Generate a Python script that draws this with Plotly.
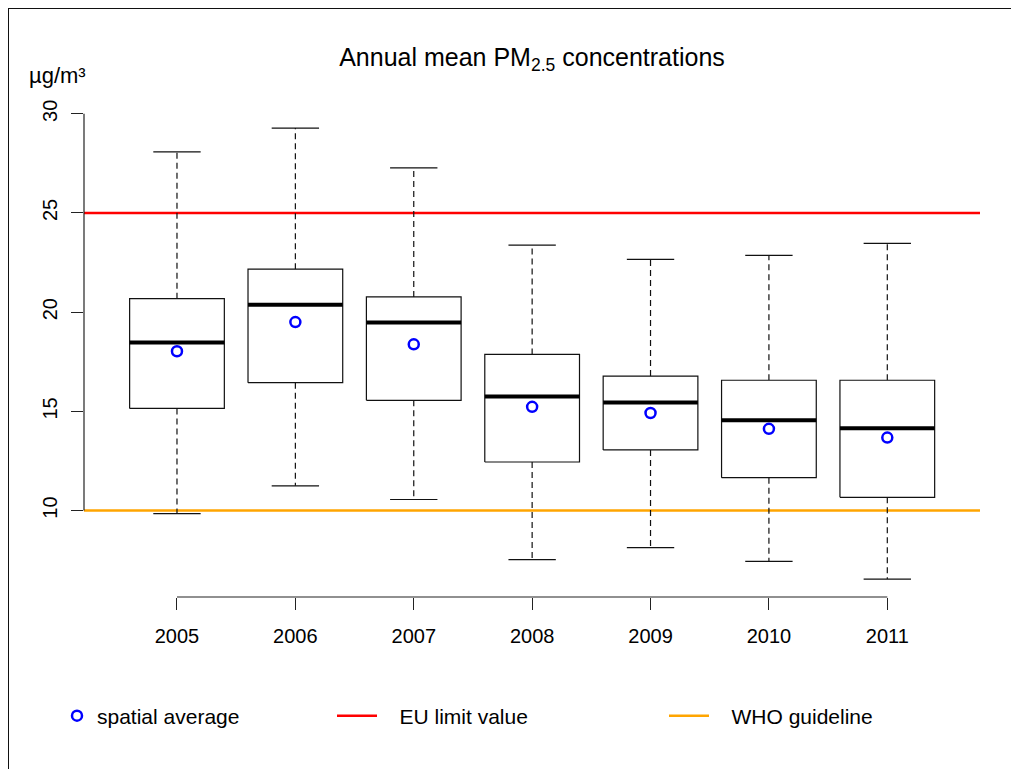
import plotly.graph_objects as go

# ---------------- data ----------------
years = ["2005", "2006", "2007", "2008", "2009", "2010", "2011"]
whisker_low = [9.85, 11.25, 10.56, 7.53, 8.13, 7.44, 6.55]
q1 = [15.15, 16.45, 15.56, 12.45, 13.06, 11.66, 10.67]
median = [18.47, 20.38, 19.48, 15.75, 15.45, 14.55, 14.15]
q3 = [20.68, 22.17, 20.77, 17.87, 16.78, 16.57, 16.57]
whisker_high = [28.08, 29.28, 27.27, 23.38, 22.66, 22.86, 23.47]
spatial_mean = [18.03, 19.50, 18.38, 15.23, 14.92, 14.12, 13.68]
eu_limit = 25
who_guideline = 10
y_ticks = [10, 15, 20, 25, 30]

# ---------------- geometry helpers ----------------
pos = list(range(1, len(years) + 1))
hw = 0.4   # box half width (category units)
cw = 0.2   # whisker cap half width
x_range = [0.2146, 7.783]
y_range = [5.646, 30.19]

box_x, box_y = [], []
med_x, med_y = [], []
wh_x, wh_y = [], []
cap_x, cap_y = [], []
for p, lo, a, m, b, hi in zip(pos, whisker_low, q1, median, q3, whisker_high):
    box_x += [p - hw, p + hw, p + hw, p - hw, p - hw, None]
    box_y += [a, a, b, b, a, None]
    med_x += [p - hw, p + hw, None]
    med_y += [m, m, None]
    wh_x += [p, p, None, p, p, None]
    wh_y += [b, hi, None, a, lo, None]
    cap_x += [p - cw, p + cw, None, p - cw, p + cw, None]
    cap_y += [hi, hi, None, lo, lo, None]

FONT = "Liberation Sans, Arial, Helvetica, sans-serif"

# plot area in figure pixels (page is offset by the 8px body margin)
L, T, W, H = 76, 102, 896, 487

fig = go.Figure()

# reference lines
fig.add_trace(go.Scatter(x=x_range, y=[eu_limit, eu_limit], mode="lines",
                         line=dict(color="#FF0000", width=2.5),
                         name="\u00a0\u00a0\u00a0EU limit value", legend="legend2",
                         hoverinfo="skip"))
fig.add_trace(go.Scatter(x=x_range, y=[who_guideline, who_guideline], mode="lines",
                         line=dict(color="#FFA500", width=2.5),
                         name="\u00a0\u00a0\u00a0WHO guideline", legend="legend3",
                         hoverinfo="skip"))

# whiskers (dashed)
fig.add_trace(go.Scatter(x=wh_x, y=wh_y, mode="lines",
                         line=dict(color="#111111", width=1.2, dash="6px,4px"),
                         showlegend=False, hoverinfo="skip"))
# caps
fig.add_trace(go.Scatter(x=cap_x, y=cap_y, mode="lines",
                         line=dict(color="#111111", width=1.2),
                         showlegend=False, hoverinfo="skip"))
# boxes
fig.add_trace(go.Scatter(x=box_x, y=box_y, mode="lines", fill="toself",
                         fillcolor="white",
                         line=dict(color="#111111", width=1.2),
                         showlegend=False, hoverinfo="skip"))
# medians
fig.add_trace(go.Scatter(x=med_x, y=med_y, mode="lines",
                         line=dict(color="black", width=4),
                         showlegend=False, hoverinfo="skip"))
# spatial average
fig.add_trace(go.Scatter(x=pos, y=spatial_mean, mode="markers",
                         marker=dict(symbol="circle-open", size=10, color="#0000FF",
                                     line=dict(width=2.5, color="#0000FF")),
                         name="spatial average", legend="legend",
                         customdata=years,
                         hovertemplate="%{customdata}: %{y}<extra></extra>"))

# axis lines (R style: only over tick range)
shapes = [
    dict(type="line", xref="x", yref="paper", x0=pos[0], x1=pos[-1], y0=0, y1=0,
         line=dict(color="#222222", width=1.2)),
    dict(type="line", xref="paper", yref="y", x0=0, x1=0, y0=y_ticks[0], y1=y_ticks[-1],
         line=dict(color="#222222", width=1.2)),
    # outer frame (partially cropped in the original)
    dict(type="rect", xref="paper", yref="paper",
         x0=(8 - 84) / W, x1=(1040 - 84) / W,
         y0=(597 - 790) / H, y1=(597 - 8) / H,
         line=dict(color="#111111", width=2), fillcolor="rgba(0,0,0,0)", layer="below"),
]

leg_common = dict(orientation="h", yanchor="middle", xanchor="left",
                  y=(597 - 716) / H, bgcolor="rgba(0,0,0,0)",
                  font=dict(family=FONT, size=21, color="black"))

fig.update_layout(
    width=1019, height=769,
    margin=dict(l=L, r=1019 - L - W, t=T, b=769 - T - H),
    paper_bgcolor="white", plot_bgcolor="white",
    font=dict(family=FONT, size=20, color="black"),
    title=dict(text="Annual mean PM<sub>2.5</sub> concentrations",
               x=0.5, xref="paper", xanchor="center",
               y=1 - 49 / 769, yref="container", yanchor="middle",
               font=dict(family=FONT, size=25, color="black")),
    xaxis=dict(range=x_range, tickvals=pos, ticktext=years, ticks="outside",
               ticklen=12, tickwidth=1.2, tickcolor="#222222", ticklabelstandoff=9,
               showgrid=False, zeroline=False, showline=False,
               tickfont=dict(family=FONT, size=20, color="black")),
    yaxis=dict(range=y_range, tickvals=y_ticks, ticks="outside",
               ticklen=12, tickwidth=1.2, tickcolor="#222222", tickangle=-90,
               ticklabelstandoff=6,
               showgrid=False, zeroline=False, showline=False,
               tickfont=dict(family=FONT, size=20, color="black")),
    shapes=shapes,
    legend=dict(x=(57 - 84) / W, **leg_common),
    legend2=dict(x=(332 - 84) / W, itemwidth=40, **leg_common),
    legend3=dict(x=(664 - 84) / W, itemwidth=40, **leg_common),
    annotations=[dict(text="µg/m³", xref="paper", yref="paper",
                      x=(27 - 84) / W, y=(597 - 75) / H,
                      xanchor="left", yanchor="middle", showarrow=False,
                      font=dict(family=FONT, size=22, color="black"))],
)

fig.write_html("out.html")
